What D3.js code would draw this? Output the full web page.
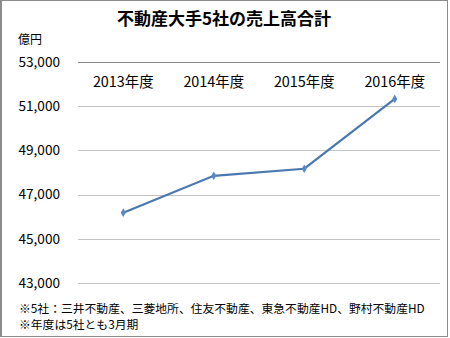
<!DOCTYPE html>
<html>
<head>
<meta charset="utf-8">
<script src="https://cdn.jsdelivr.net/npm/d3@7"></script>
<style>
  body { margin: 0; background: #fff; }
  text { font-family: "Noto Sans CJK JP", "Noto Sans", sans-serif; fill: #000; }
</style>
</head>
<body>
<div id="chart"></div>
<script>
const years = ["2013年度", "2014年度", "2015年度", "2016年度"];
const sales = [46180, 47850, 48170, 51330];
const yTicks = [43000, 45000, 47000, 49000, 51000, 53000];
const notes = [
    "※5社：三井不動産、三菱地所、住友不動産、東急不動産HD、野村不動産HD",
    "※年度は5社とも3月期"
];

const width = 450, height = 338;
const plot = { left: 78, right: 440, top: 62, bottom: 283 };

const svg = d3.select("#chart").append("svg")
    .attr("width", width)
    .attr("height", height);

svg.append("rect")
    .attr("x", 0.5).attr("y", 0.5)
    .attr("width", width - 3).attr("height", height - 2)
    .attr("fill", "#fff")
    .attr("stroke", "#8c8c8c")
    .attr("stroke-width", 1);
svg.append("line")
    .attr("x1", 1.5).attr("x2", 1.5).attr("y1", 0).attr("y2", height - 1)
    .attr("stroke", "#8c8c8c");

const x = d3.scalePoint()
    .domain(years)
    .range([plot.left, plot.right])
    .padding(0.5);

const y = d3.scaleLinear()
    .domain([43000, 53000])
    .range([plot.bottom, plot.top]);

// gridlines
svg.append("g")
    .selectAll("line")
    .data(yTicks)
    .enter()
    .append("line")
    .attr("x1", plot.left)
    .attr("x2", plot.right)
    .attr("y1", d => Math.round(y(d)) + 0.5)
    .attr("y2", d => Math.round(y(d)) + 0.5)
    .attr("stroke", d => d === 53000 ? "#8a8a8a" : "#c4c4c4")
    .attr("stroke-width", 1);

// y labels
svg.append("g")
    .selectAll("text")
    .data(yTicks)
    .enter()
    .append("text")
    .attr("x", 60)
    .attr("y", d => y(d))
    .attr("dy", "0.35em")
    .attr("text-anchor", "end")
    .style("font-size", "13.6px")
    .text(d => d3.format(",")(d));

// category labels along the top
svg.append("g")
    .selectAll("text")
    .data(years)
    .enter()
    .append("text")
    .attr("x", d => x(d))
    .attr("y", 82)
    .attr("dy", "0.35em")
    .attr("text-anchor", "middle")
    .style("font-size", "14.4px")
    .text(d => d);

svg.append("text")
    .attr("x", 224)
    .attr("y", 19)
    .attr("dy", "0.35em")
    .attr("text-anchor", "middle")
    .style("font-size", "17px")
    .style("font-weight", "bold")
    .text("不動産大手5社の売上高合計");

svg.append("text")
    .attr("x", 18)
    .attr("y", 40)
    .attr("dy", "0.35em")
    .style("font-size", "12px")
    .text("億円");

// line
const line = d3.line()
    .x((d, i) => x(years[i]))
    .y(d => y(d));

svg.append("path")
    .datum(sales)
    .attr("fill", "none")
    .attr("stroke", "#4a78b0")
    .attr("stroke-width", 2.2)
    .attr("d", line);

svg.append("g")
    .selectAll("path")
    .data(sales)
    .enter()
    .append("path")
    .attr("transform", (d, i) => `translate(${x(years[i])},${y(d)})`)
    .attr("d", d3.symbol(d3.symbolDiamond, 22))
    .attr("fill", "#5b87c2");

svg.append("g")
    .selectAll("text")
    .data(notes)
    .enter()
    .append("text")
    .attr("x", 19)
    .attr("y", (d, i) => 309 + i * 16)
    .attr("dy", "0.35em")
    .style("font-size", "11.8px")
    .text(d => d);
</script>
</body>
</html>
